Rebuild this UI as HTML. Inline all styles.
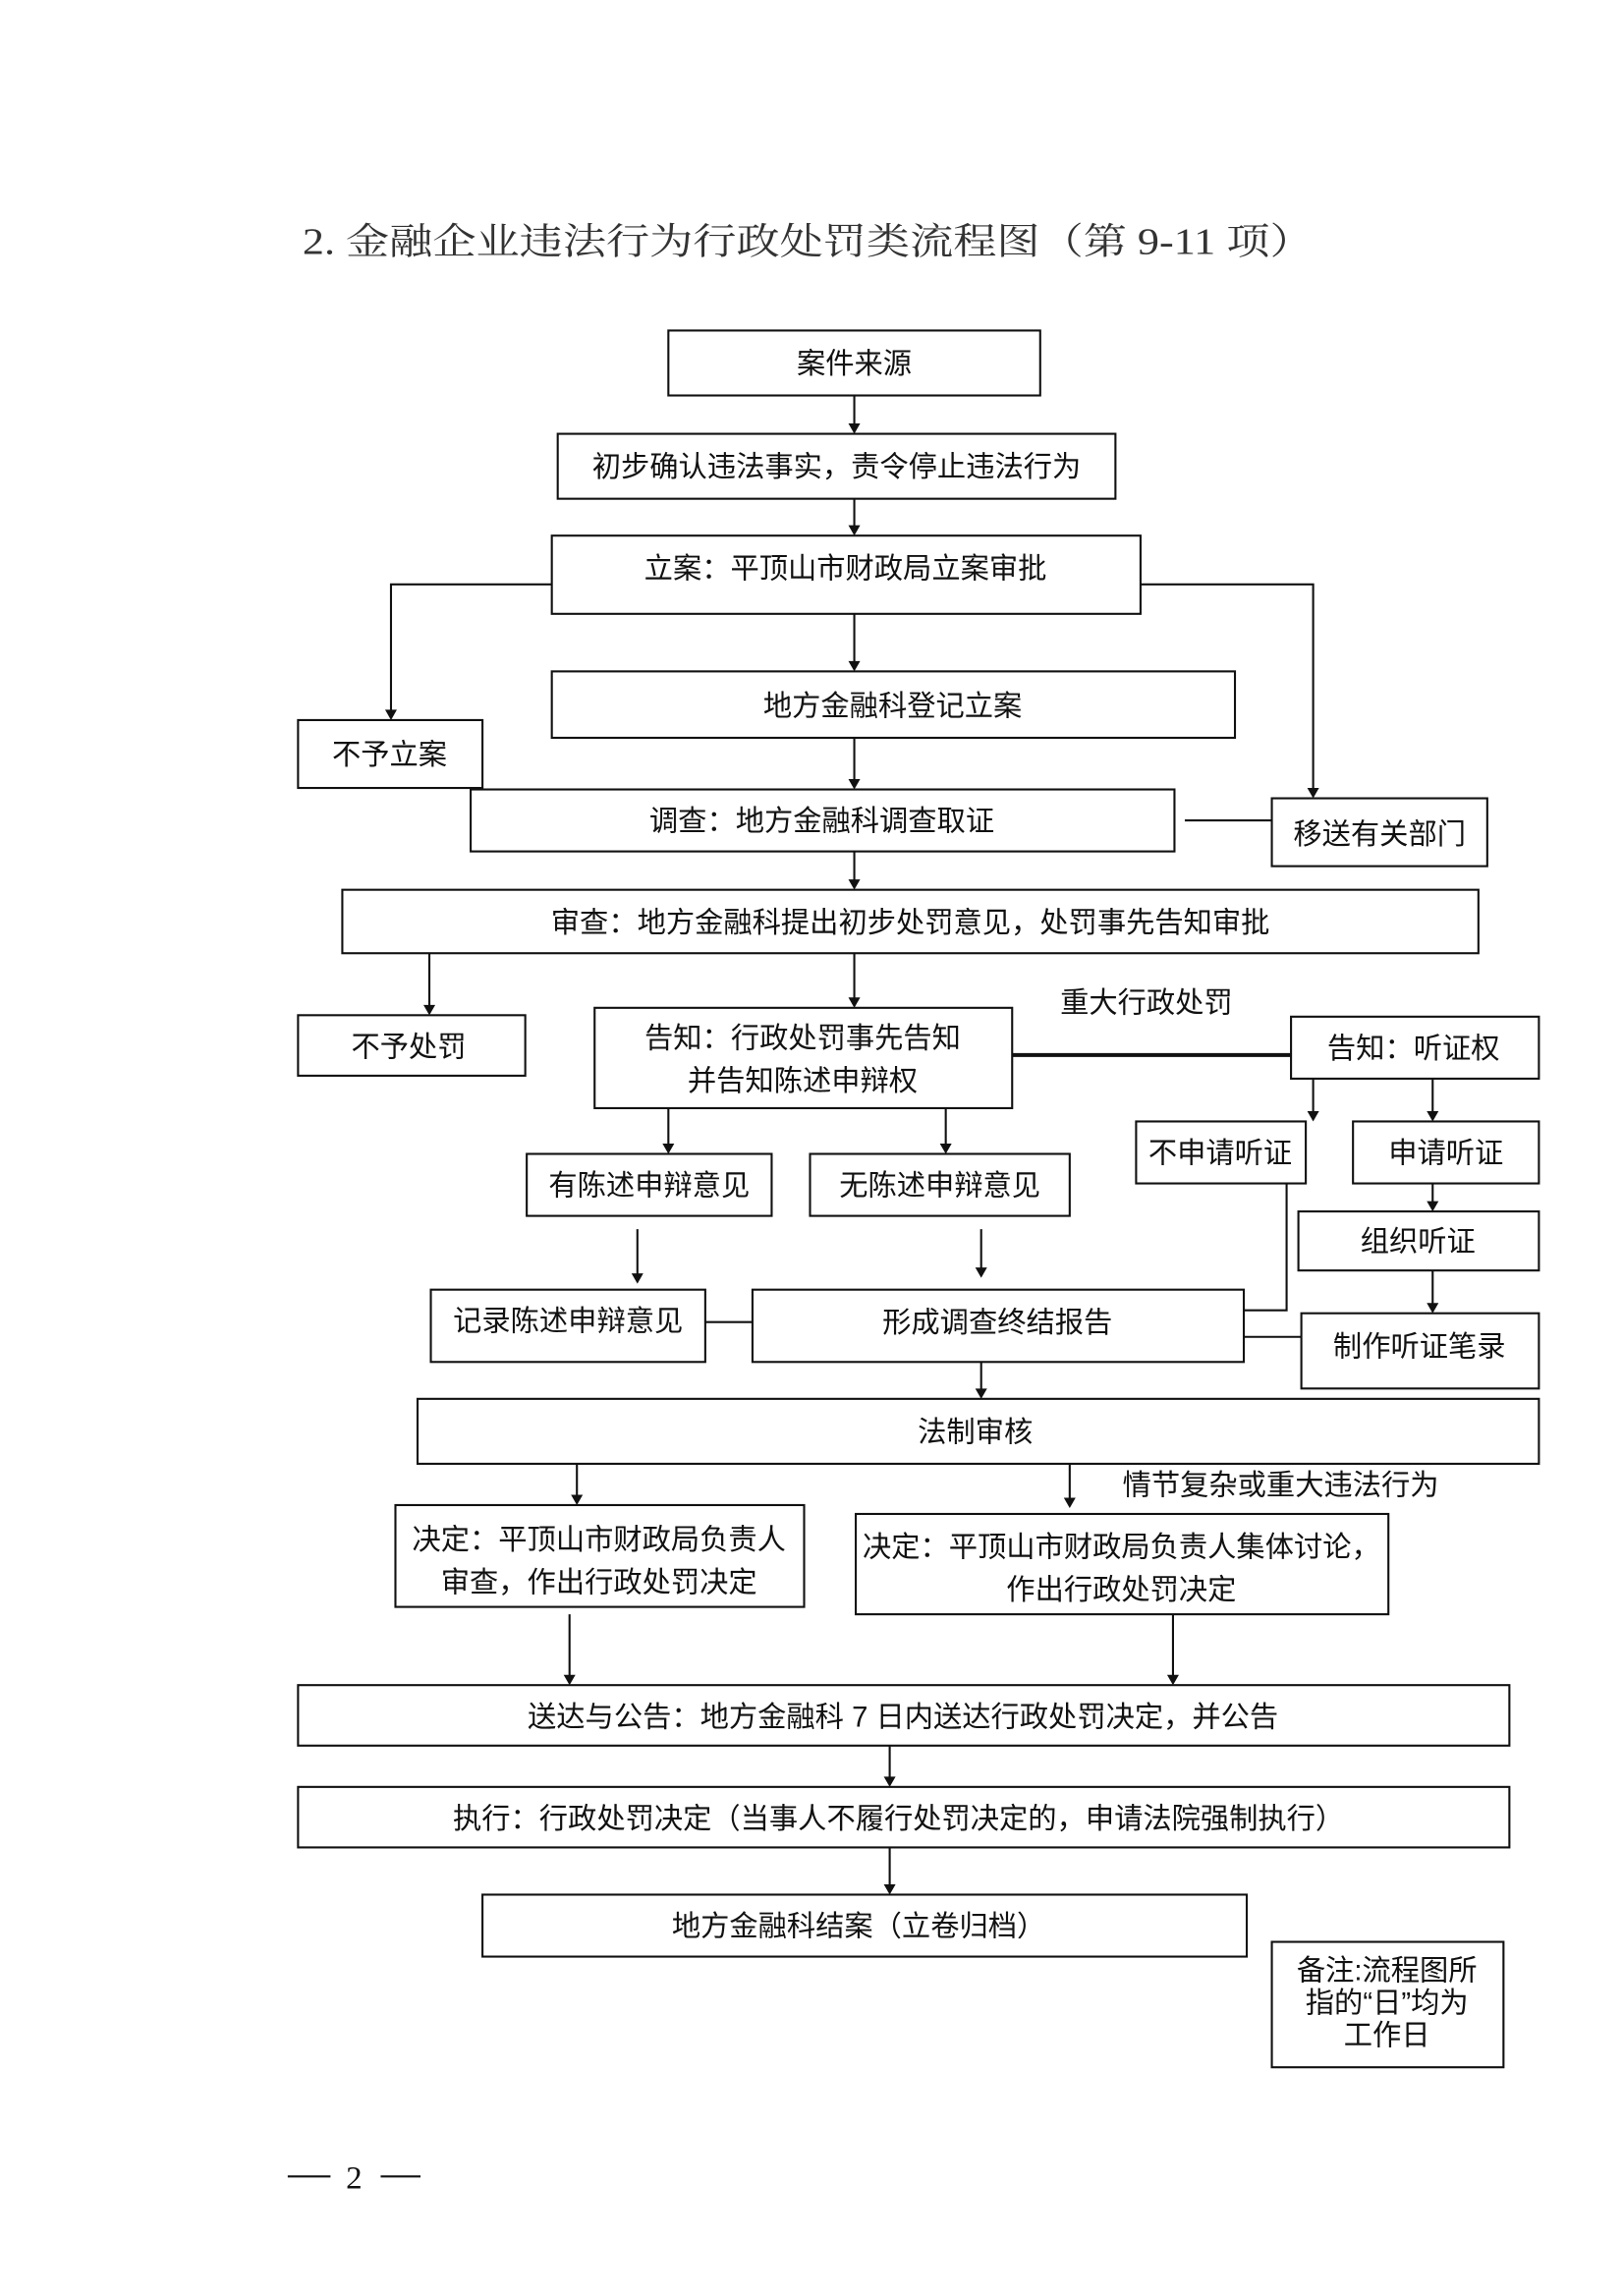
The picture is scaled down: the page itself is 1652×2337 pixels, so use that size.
<!DOCTYPE html>
<html><head><meta charset="utf-8"><style>
html,body{margin:0;padding:0;background:#fff;}
svg{display:block;}
text{font-family:"Liberation Sans","Noto Sans CJK SC",sans-serif;font-size:19.5px;fill:#111;}
.t{font-family:"Liberation Serif","Noto Serif CJK SC",serif;font-size:25px;fill:#333;}
</style></head><body>
<svg width="1652" height="2337" viewBox="0 0 1100 1556" preserveAspectRatio="none" xmlns="http://www.w3.org/2000/svg">
<defs><marker id="a" markerWidth="8" markerHeight="10" refX="4" refY="10" orient="auto" markerUnits="userSpaceOnUse" viewBox="0 0 8 10"></marker></defs>
<text class="t" x="205" y="172" textLength="685" lengthAdjust="spacingAndGlyphs">2. 金融企业违法行为行政处罚类流程图（第 9-11 项）</text>
<g fill="none" stroke="#111" stroke-width="1.4">
<rect x="453" y="224" width="252" height="44"/>
<rect x="378" y="294" width="378" height="44"/>
<rect x="374" y="363" width="399" height="53"/>
<rect x="374" y="455" width="463" height="45"/>
<rect x="202" y="488" width="125" height="46"/>
<rect x="319" y="535" width="477" height="42"/>
<rect x="862" y="541" width="146" height="46"/>
<rect x="232" y="603" width="770" height="43"/>
<rect x="202" y="688" width="154" height="41"/>
<rect x="403" y="683" width="283" height="68"/>
<rect x="875" y="689" width="168" height="42"/>
<rect x="770" y="760" width="115" height="42"/>
<rect x="917" y="760" width="126" height="42"/>
<rect x="357" y="782" width="166" height="42"/>
<rect x="549" y="782" width="176" height="42"/>
<rect x="880" y="821" width="163" height="40"/>
<rect x="292" y="874" width="186" height="49"/>
<rect x="510" y="874" width="333" height="49"/>
<rect x="882" y="890" width="161" height="51"/>
<rect x="283" y="948" width="760" height="44"/>
<rect x="268" y="1020" width="277" height="69"/>
<rect x="580" y="1026" width="361" height="68"/>
<rect x="202" y="1142" width="821" height="41"/>
<rect x="202" y="1211" width="821" height="41"/>
<rect x="327" y="1284" width="518" height="42"/>
<rect x="862" y="1316" width="157" height="85"/>
<!-- connectors -->
<path d="M579 268V288M579 338V357M579 416V449M579 500V529M579 577V597M579 646V677"/>
<path d="M374 396H265V482M773 396H890V535"/>
<path d="M803 556H862"/>
<path d="M291 646V682"/>
<path d="M686 715H875" stroke-width="2.6"/>
<path d="M890 731V754M971 731V754M453 751V776M641 751V776"/>
<path d="M971 802V815M971 861V884"/>
<path d="M872 802V888H843M843 906H882M478 896H510"/>
<path d="M432 833V864M665 833V860M665 923V942"/>
<path d="M391 992V1014M725 992V1016M386 1094V1136M795 1094V1136M603 1183V1205M603 1252V1278"/>
<path d="M195 1475H224M258 1475H285"/>
</g>
<g fill="#111">
<polygon points="575,287 583,287 579,294"/>
<polygon points="575,356 583,356 579,363"/>
<polygon points="575,448 583,448 579,455"/>
<polygon points="575,528 583,528 579,535"/>
<polygon points="575,596 583,596 579,603"/>
<polygon points="575,676 583,676 579,683"/>
<polygon points="261,481 269,481 265,488"/>
<polygon points="886,534 894,534 890,541"/>
<polygon points="287,681 295,681 291,688"/>
<polygon points="886,753 894,753 890,760"/>
<polygon points="967,753 975,753 971,760"/>
<polygon points="449,775 457,775 453,782"/>
<polygon points="637,775 645,775 641,782"/>
<polygon points="967,814 975,814 971,821"/>
<polygon points="967,883 975,883 971,890"/>
<polygon points="428,863 436,863 432,870"/>
<polygon points="661,859 669,859 665,866"/>
<polygon points="661,941 669,941 665,948"/>
<polygon points="387,1013 395,1013 391,1020"/>
<polygon points="721,1015 729,1015 725,1022"/>
<polygon points="382,1135 390,1135 386,1142"/>
<polygon points="791,1135 799,1135 795,1142"/>
<polygon points="599,1204 607,1204 603,1211"/>
<polygon points="599,1277 607,1277 603,1284"/>
</g>
<g text-anchor="middle">
<text x="579" y="253">案件来源</text>
<text x="567" y="323">初步确认违法事实，责令停止违法行为</text>
<text x="573" y="392">立案：平顶山市财政局立案审批</text>
<text x="605" y="485">地方金融科登记立案</text>
<text x="264" y="518">不予立案</text>
<text x="557" y="563">调查：地方金融科调查取证</text>
<text x="935" y="572">移送有关部门</text>
<text x="617" y="632">审查：地方金融科提出初步处罚意见，处罚事先告知审批</text>
<text x="277" y="716">不予处罚</text>
<text x="544" y="710">告知：行政处罚事先告知</text>
<text x="544" y="739">并告知陈述申辩权</text>
<text x="777" y="686">重大行政处罚</text>
<text x="958" y="717">告知：听证权</text>
<text x="827" y="788">不申请听证</text>
<text x="980" y="788">申请听证</text>
<text x="440" y="810">有陈述申辩意见</text>
<text x="637" y="810">无陈述申辩意见</text>
<text x="961" y="848">组织听证</text>
<text x="385" y="902">记录陈述申辩意见</text>
<text x="676" y="903">形成调查终结报告</text>
<text x="962" y="919">制作听证笔录</text>
<text x="661" y="977">法制审核</text>
<text x="868" y="1013">情节复杂或重大违法行为</text>
<text x="406" y="1050">决定：平顶山市财政局负责人</text>
<text x="406" y="1079">审查，作出行政处罚决定</text>
<text x="760" y="1055">决定：平顶山市财政局负责人集体讨论，</text>
<text x="760" y="1084">作出行政处罚决定</text>
<text x="612" y="1170">送达与公告：地方金融科 7 日内送达行政处罚决定，并公告</text>
<text x="609" y="1239">执行：行政处罚决定（当事人不履行处罚决定的，申请法院强制执行）</text>
<text x="582" y="1312">地方金融科结案（立卷归档）</text>
<text x="940" y="1342">备注:流程图所</text>
<text x="940" y="1364">指的“日”均为</text>
<text x="940" y="1386">工作日</text>
<text x="240" y="1483" style="font-family:'Liberation Serif',serif;font-size:22px">2</text>
</g>
</svg>
</body></html>
